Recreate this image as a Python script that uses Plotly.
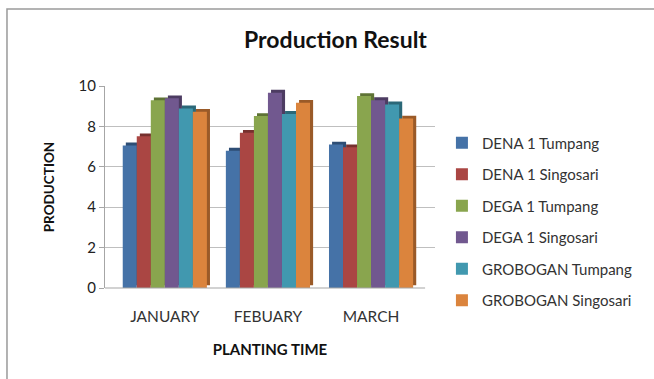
import plotly.graph_objects as go

# Planting months and production per variety/location
months = ["JANUARY", "FEBUARY", "MARCH"]
series_names = [
    "DENA 1 Tumpang",
    "DENA 1 Singosari",
    "DEGA 1 Tumpang",
    "DEGA 1 Singosari",
    "GROBOGAN Tumpang",
    "GROBOGAN Singosari",
]
dena1_tumpang = [7.06, 6.80, 7.10]
dena1_singosari = [7.51, 7.68, 6.97]
dega1_tumpang = [9.29, 8.51, 9.50]
dega1_singosari = [9.39, 9.67, 9.30]
grobogan_tumpang = [8.89, 8.62, 9.09]
grobogan_singosari = [8.72, 9.17, 8.39]
y_ticks = [0, 2, 4, 6, 8, 10]

series_values = [dena1_tumpang, dena1_singosari, dega1_tumpang,
                 dega1_singosari, grobogan_tumpang, grobogan_singosari]
face_colors = ["#4572A7", "#AA4643", "#89A54E", "#71588F", "#4198AF", "#DB843D"]
side_colors = ["#2E4E75", "#76302E", "#5E7335", "#4D3C62", "#2B6878", "#9A5A28"]

FONT = "Lato, Calibri, Arial, sans-serif"
bar_w = 0.136
start = -3 * bar_w
x_idx = list(range(len(months)))
depth_lift = 0.14   # vertical shift of the depth block, in data units

fig = go.Figure()

# darker "depth" blocks behind every column to give a pseudo 3-D look
for k, (vals, col) in enumerate(zip(series_values, side_colors)):
    fig.add_trace(go.Bar(
        x=x_idx, y=vals, base=depth_lift, width=bar_w,
        offset=start + k * bar_w + 0.03,
        marker=dict(color=col, line=dict(width=0)),
        showlegend=False, hoverinfo="skip",
    ))

# front faces of the columns
for k, (name, vals, col) in enumerate(zip(series_names, series_values, face_colors)):
    fig.add_trace(go.Bar(
        x=x_idx, y=vals, width=bar_w, offset=start + k * bar_w,
        name=name, legendgroup=name,
        marker=dict(color=col, line=dict(width=0)),
    ))

fig.update_layout(
    width=654, height=379,
    barmode="overlay",
    paper_bgcolor="white", plot_bgcolor="white",
    margin=dict(l=105, r=219, t=86, b=91),
    font=dict(family=FONT, size=13, color="#222222"),
    title=dict(text="<b>Production Result</b>", x=0.513, xanchor="center",
               y=0.895, yanchor="middle",
               font=dict(family=FONT, size=23, color="#111111")),
    xaxis=dict(
        tickmode="array", tickvals=x_idx, ticktext=months,
        range=[-0.58, 2.62], showgrid=False, zeroline=False,
        showline=False, ticks="", ticklabelstandoff=17,
        tickfont=dict(size=15.5, color="#333333"),
        title=dict(text="<b>PLANTING TIME</b>", standoff=20,
                   font=dict(size=15, color="#111111")),
    ),
    yaxis=dict(
        range=[0, 10], tickvals=y_ticks, showgrid=True,
        gridcolor="#BFBFBF", gridwidth=1.2, zeroline=False,
        showline=True, linecolor="#A6A6A6", linewidth=1.2,
        ticks="outside", ticklen=5, tickcolor="#A6A6A6",
        tickfont=dict(size=15, color="#222222"),
        title=dict(text="<b>PRODUCTION</b>", standoff=20,
                   font=dict(size=13.5, color="#111111")),
    ),
    legend=dict(
        x=1.021, xanchor="left", y=0.80, yanchor="top",
        font=dict(size=15, color="#333333"),
        tracegroupgap=9, itemwidth=30, bgcolor="rgba(0,0,0,0)",
    ),
    shapes=[
        # chart border
        dict(type="rect", xref="paper", yref="paper",
             x0=-0.297, x1=1.70, y0=-0.50, y1=1.381,
             line=dict(color="#9A9A9A", width=1.5), fillcolor="rgba(0,0,0,0)",
             layer="below"),
        # floor edge
        dict(type="line", xref="paper", yref="paper",
             x0=0, x1=0.97, y0=0, y1=0,
             line=dict(color="#A6A6A6", width=1.2)),
    ],
)

fig.write_html("out.html")
